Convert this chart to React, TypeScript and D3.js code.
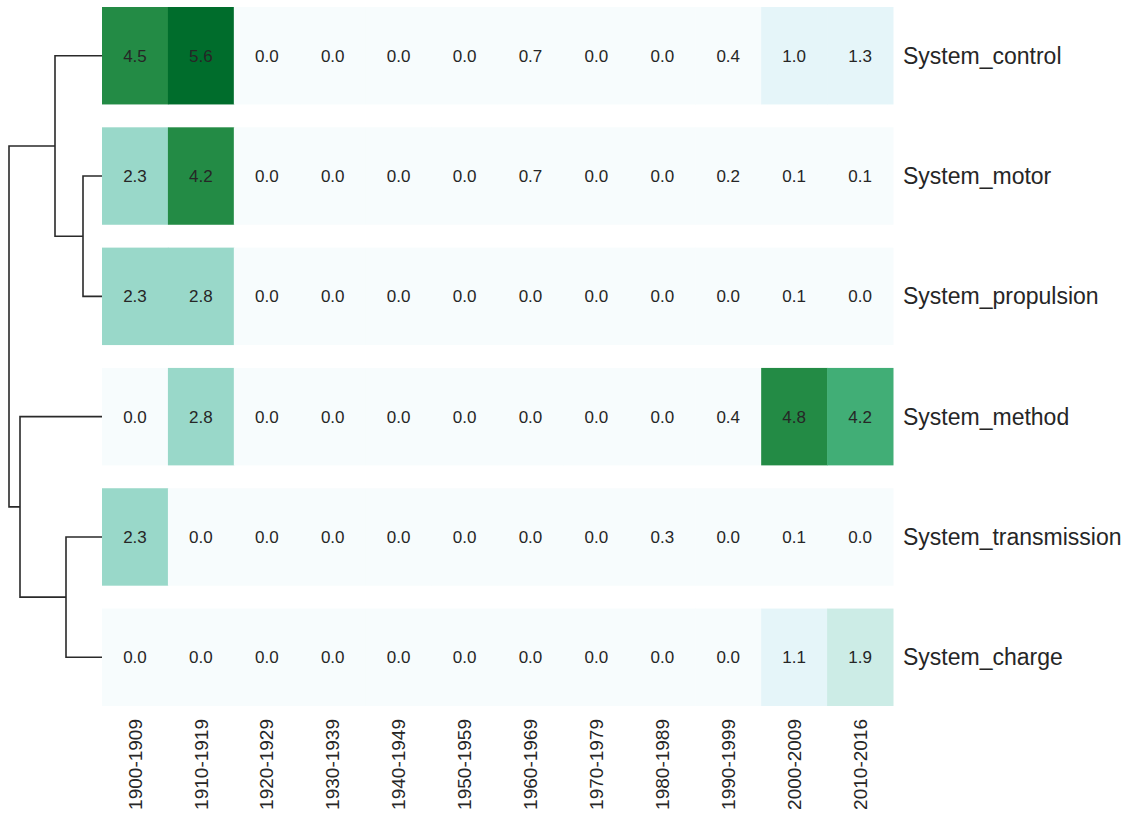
import React from "react";
import * as d3 from "d3";

const columns = ["1900-1909","1910-1919","1920-1929","1930-1939","1940-1949","1950-1959","1960-1969","1970-1979","1980-1989","1990-1999","2000-2009","2010-2016"];
const rows = ["System_control","System_motor","System_propulsion","System_method","System_transmission","System_charge"];

const controlVals = [4.5, 5.6, 0.0, 0.0, 0.0, 0.0, 0.7, 0.0, 0.0, 0.4, 1.0, 1.3];
const motorVals = [2.3, 4.24, 0.0, 0.0, 0.0, 0.0, 0.7, 0.0, 0.0, 0.2, 0.1, 0.1];
const propulsionVals = [2.3, 2.8, 0.0, 0.0, 0.0, 0.0, 0.0, 0.0, 0.0, 0.0, 0.1, 0.0];
const methodVals = [0.0, 2.8, 0.0, 0.0, 0.0, 0.0, 0.0, 0.0, 0.0, 0.4, 4.8, 4.16];
const transmissionVals = [2.3, 0.0, 0.0, 0.0, 0.0, 0.0, 0.0, 0.0, 0.3, 0.0, 0.1, 0.0];
const chargeVals = [0.0, 0.0, 0.0, 0.0, 0.0, 0.0, 0.0, 0.0, 0.0, 0.0, 1.1, 1.9];

const matrix = [controlVals, motorVals, propulsionVals, methodVals, transmissionVals, chargeVals];

// linkage: [childA, childB, height]; leaves are 0..5, merged nodes 6..
const linkage: [number, number, number][] = [
  [1, 2, 19],
  [4, 5, 36],
  [0, 6, 47],
  [3, 7, 82],
  [8, 9, 93],
];

const thresholds = [0.8, 1.5, 2.1, 3.0, 3.6, 4.2, 5.0];
const palette = ["#f7fcfd", "#e5f5f9", "#ccece6", "#99d8c9", "#66c2a4", "#41ae76", "#238b45", "#006d2c"];

const W = 1132, H = 829;
const FONT = "'Liberation Sans', Arial, sans-serif";

export default function App() {
  const x = d3.scaleBand<string>().domain(columns).range([102, 893]).padding(0);
  const y = d3.scaleBand<string>().domain(rows).range([7, 706]).paddingInner(0.19).paddingOuter(0);
  const color = d3.scaleThreshold<number, string>().domain(thresholds).range(palette);
  const maxH = d3.max(linkage, (l) => l[2]) as number;
  const hx = d3.scaleLinear().domain([0, maxH]).range([102, 9]);

  const nodeY: number[] = rows.map((r) => (y(r) as number) + y.bandwidth() / 2);
  const nodeH: number[] = rows.map(() => 0);
  const segs: string[] = [];
  linkage.forEach(([a, b, h]) => {
    const ya = nodeY[a], yb = nodeY[b];
    const xa = hx(nodeH[a]), xb = hx(nodeH[b]), xp = hx(h);
    const p = d3.path();
    p.moveTo(xa, ya);
    p.lineTo(xp, ya);
    p.lineTo(xp, yb);
    p.lineTo(xb, yb);
    segs.push(p.toString());
    nodeY.push((ya + yb) / 2);
    nodeH.push(h);
  });

  return (
    <svg width={W} height={H} style={{ position: "absolute", left: 0, top: 0, background: "#fff" }} fontFamily={FONT}>
      {matrix.map((vals, ri) =>
        vals.map((v, ci) => (
          <g key={`${ri}-${ci}`}>
            <rect
              x={x(columns[ci])}
              y={y(rows[ri])}
              width={x.bandwidth() + 0.5}
              height={y.bandwidth()}
              fill={color(v)}
            />
            <text
              x={(x(columns[ci]) as number) + x.bandwidth() / 2}
              y={(y(rows[ri]) as number) + y.bandwidth() / 2}
              dy="0.35em"
              textAnchor="middle"
              fontSize={17}
              fill="#262626"
            >
              {v.toFixed(1)}
            </text>
          </g>
        ))
      )}
      {rows.map((r) => (
        <text key={r} x={903} y={(y(r) as number) + y.bandwidth() / 2} dy="0.35em" fontSize={23} fill="#262626">
          {r}
        </text>
      ))}
      {columns.map((c) => (
        <text
          key={c}
          transform={`translate(${(x(c) as number) + x.bandwidth() / 2},${719}) rotate(-90)`}
          dy="0.35em"
          textAnchor="end"
          fontSize={19}
          fill="#262626"
        >
          {c}
        </text>
      ))}
      {segs.map((d, i) => (
        <path key={i} d={d} fill="none" stroke="#2a2a2a" strokeWidth={1.6} />
      ))}
    </svg>
  );
}
